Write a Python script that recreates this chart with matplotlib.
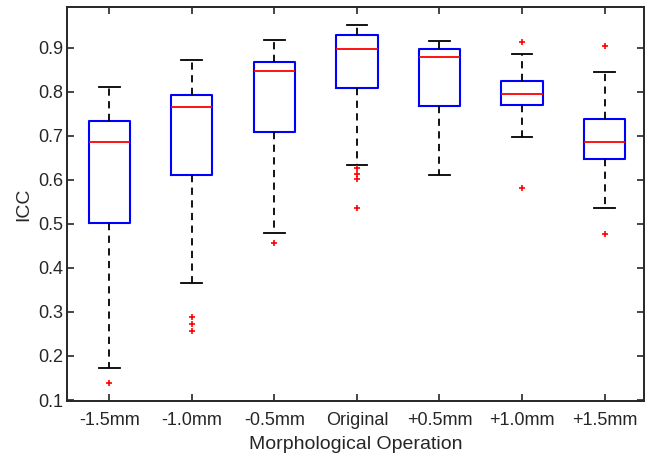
import numpy as np
import matplotlib
matplotlib.use('Agg')
import matplotlib.pyplot as plt

plt.rcParams['font.family'] = ['Liberation Sans', 'DejaVu Sans']

# Данные: статистики боксплотов
labels = ['-1.5mm', '-1.0mm', '-0.5mm', 'Original', '+0.5mm', '+1.0mm', '+1.5mm']
whislo = [0.173, 0.365, 0.480, 0.634, 0.612, 0.697, 0.535]
q1 = [0.503, 0.612, 0.708, 0.809, 0.768, 0.770, 0.648]
med = [0.686, 0.765, 0.847, 0.898, 0.880, 0.796, 0.686]
q3 = [0.733, 0.792, 0.867, 0.930, 0.898, 0.825, 0.739]
whishi = [0.811, 0.873, 0.918, 0.952, 0.916, 0.886, 0.845]
fliers = [
    [0.138],
    [0.288, 0.273, 0.257],
    [0.456],
    [0.627, 0.614, 0.602, 0.535],
    [],
    [0.912, 0.582],
    [0.905, 0.477],
]

stats = []
for i in range(len(labels)):
    stats.append({'whislo': whislo[i], 'q1': q1[i], 'med': med[i], 'q3': q3[i],
                  'whishi': whishi[i], 'fliers': fliers[i], 'label': labels[i]})

fig = plt.figure(figsize=(6.52, 4.54), dpi=100)
ax = fig.add_axes([0.103, 0.117, 0.885, 0.868])

ax.bxp(stats, positions=np.arange(1, 8), widths=0.5, showfliers=True,
       boxprops=dict(color='blue', linewidth=1.5),
       medianprops=dict(color='red', linewidth=1.3),
       whiskerprops=dict(color='black', linestyle=(0, (4, 3)), linewidth=1.3),
       capprops=dict(color='black', linewidth=1.3),
       flierprops=dict(marker='+', markeredgecolor='red', markersize=5,
                       markeredgewidth=1.2, linestyle='none'),
       capwidths=0.25)

ax.set_xlim(0.49, 7.48)
ax.set_ylim(0.098, 0.993)
ax.set_yticks(np.arange(0.1, 0.95, 0.1))
ax.set_yticklabels(['0.1', '0.2', '0.3', '0.4', '0.5', '0.6', '0.7', '0.8', '0.9'])
ax.set_xticks(np.arange(1, 8))
ax.set_xticklabels(labels)
ax.tick_params(direction='in', top=True, right=True, length=5, width=1.2,
               colors='#262626', labelsize=13, pad=3)
ax.tick_params(axis='x', pad=8)
for s in ax.spines.values():
    s.set_color('#262626')
    s.set_linewidth(1.4)

ax.set_xlabel('Morphological Operation', fontsize=14, color='#262626', labelpad=5)
ax.set_ylabel('ICC', fontsize=14, color='#262626', labelpad=4)

plt.savefig('out.png', dpi=100)
